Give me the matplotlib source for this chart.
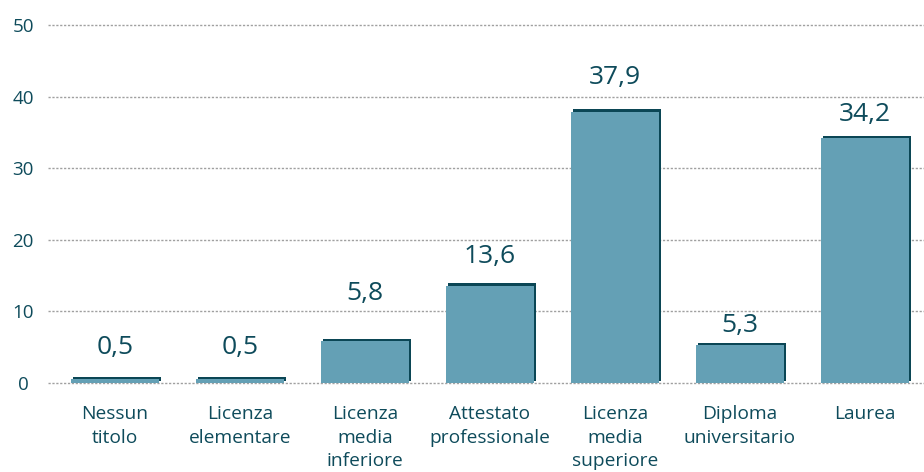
import matplotlib
matplotlib.use("Agg")
import matplotlib.pyplot as plt
import matplotlib.patheffects as pe

categories = ["Nessun\ntitolo", "Licenza\nelementare", "Licenza\nmedia\ninferiore",
              "Attestato\nprofessionale", "Licenza\nmedia\nsuperiore",
              "Diploma\nuniversitario", "Laurea"]
values = [0.5, 0.5, 5.8, 13.6, 37.9, 5.3, 34.2]
value_labels = ["0,5", "0,5", "5,8", "13,6", "37,9", "5,3", "34,2"]
yticks = [0, 10, 20, 30, 40, 50]

# layout: baseline offset of each value label above its bar (points)
label_offsets = [18, 18, 30, 16, 20, 9.5, 12.5]

TEXT = "#0E4B5B"
BAR = "#64A0B5"
DARK = "#0B4655"

plt.rcParams['font.family'] = ['Open Sans', 'DejaVu Sans']

fig = plt.figure(figsize=(9.24, 4.72), dpi=100)
ax = fig.add_axes([48/924, 1-383/472, (924-48)/924, (383-25)/472])

x = list(range(len(categories)))
bars = ax.bar(x, values, width=0.70, color=BAR, zorder=3,
              path_effects=[pe.SimplePatchShadow(offset=(1.6, 1.6), shadow_rgbFace=DARK, alpha=1.0),
                            pe.Normal()])

for xi, v, lab, off in zip(x, values, value_labels, label_offsets):
    ax.annotate(lab, (xi, v), xytext=(0, off), textcoords="offset points",
                ha="center", va="baseline", fontsize=19, color=TEXT, zorder=4,
                fontweight="medium")

ax.set_xlim(-0.536, 6.472)
ax.set_ylim(0, 50)
ax.set_yticks(yticks)
ax.set_yticklabels([str(t) for t in yticks])
ax.set_xticks(x)
ax.set_xticklabels(categories, fontsize=13.8, color=TEXT, linespacing=1.38, va="top",
                   fontweight="medium")

ax.tick_params(axis="y", length=0, pad=18, labelsize=13.5, labelcolor=TEXT)
ax.tick_params(axis="x", length=0, pad=16)
for lbl in ax.get_yticklabels():
    lbl.set_horizontalalignment("center")
    lbl.set_fontweight("medium")

for t in yticks:
    ax.axhline(t, color="#A0A0A0", linewidth=1.0, linestyle=(0, (1.6, 1.2)), zorder=1, clip_on=False)

for s in ax.spines.values():
    s.set_visible(False)

fig.savefig("out.png", dpi=100)
